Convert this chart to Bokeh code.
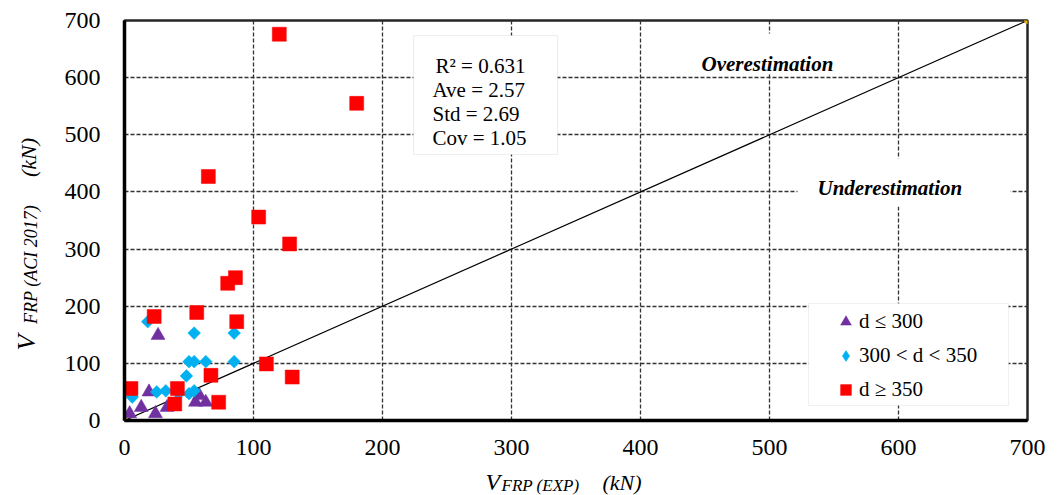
import math
from bokeh.plotting import figure
from bokeh.layouts import row, column
from bokeh.models import (Label, BoxAnnotation, Legend, LegendItem, Range1d,
                          FixedTicker)
from bokeh.core.properties import value
from bokeh.embed import file_html
from bokeh.resources import INLINE

# ---------------- data ----------------
x_ticks = [0, 100, 200, 300, 400, 500, 600, 700]
y_ticks = [0, 100, 200, 300, 400, 500, 600, 700]

# d <= 300
pur_x = [26, 19, 13, 4, 24, 33, 55, 63, 58]
pur_y = [149, 50, 23, 12, 12, 23, 32, 32, 44]

# 300 < d < 350
blue_x = [18, 54, 85, 50, 54, 63, 85, 48, 25, 32, 50, 54, 6, 42]
blue_y = [173, 153, 153, 103, 103, 103, 103, 78, 50, 52, 47, 52, 41, 47]

# d >= 350
red_x = [120, 180, 65, 104, 128, 86, 80, 56, 23, 87, 110, 130, 67, 5, 41, 39, 73]
red_y = [676, 555, 427, 356, 309, 250, 240, 189, 182, 173, 99, 76, 79, 56, 56, 29, 32]

# 1:1 reference line
line_x = [0, 700]
line_y = [0, 700]

series_labels = ["d \u2264 300", "300 < d < 350", "d \u2265 350"]
stats_lines = ["R\u00b2 = 0.631", "Ave = 2.57", "Std = 2.69", "Cov = 1.05"]
x_title = ["V", "FRP (EXP)", "(kN)"]
y_title = ["V", "FRP (ACI 2017)", "(kN)"]

# ---------------- layout ----------------
W, H = 1062, 495
LW = 46            # width of the y-title strip
MH = 466           # height of the main figure
FL, FR, FT, FB = 124, 1027, 20, 420   # frame in page pixels


def dx(px):
    return (px - FL) * 700.0 / (FR - FL)


def dy(py):
    return (FB - py) * 700.0 / (FB - FT)


SERIF = "Liberation Serif"
MATH = "Liberation Serif"

p = figure(width=W - LW, height=MH, output_backend="svg", toolbar_location=None,
           x_range=Range1d(0, 700), y_range=Range1d(0, 700),
           min_border_left=FL - LW, min_border_right=W - FR,
           min_border_top=FT, min_border_bottom=MH - FB)
p.background_fill_color = "white"
p.border_fill_color = "white"
p.outline_line_color = "#262626"
p.outline_line_width = 2.5

for ax, ticks in ((p.xaxis, x_ticks), (p.yaxis, y_ticks)):
    ax.ticker = FixedTicker(ticks=ticks)
    ax.major_label_text_font = SERIF
    ax.major_label_text_font_size = "24px"
    ax.major_label_text_color = "black"
    ax.axis_line_color = "black"
    ax.axis_line_width = 3.5
    ax.major_tick_line_color = None
    ax.minor_tick_line_color = None
    ax.major_tick_out = 0
    ax.major_tick_in = 0
p.xaxis.major_label_standoff = 19
p.yaxis.major_label_standoff = 24

p.xgrid.ticker = FixedTicker(ticks=x_ticks)
p.ygrid.ticker = FixedTicker(ticks=y_ticks)
for g in (p.xgrid, p.ygrid):
    g.grid_line_color = "#333333"
    g.grid_line_dash = "4 2"
    g.grid_line_width = 1.3

# 1:1 line
p.line(line_x, line_y, line_color="black", line_width=1.2)
p.scatter(line_x, line_y, marker="circle", size=6, fill_color="#FFC000",
          line_color="#D9A000", line_width=1)

r_pur = p.scatter(pur_x, pur_y, marker="triangle", size=14,
                  fill_color="#7030A0", line_color="#7030A0", line_width=0.5)
r_blue = p.scatter(blue_x, blue_y, marker="square", size=9, angle=math.pi / 4,
                   fill_color="#00B0F0", line_color="#00B0F0", line_width=0.5)
# diamond-shaped stand-in used only for the legend swatch (not drawn)
r_blue_leg = p.scatter(blue_x, blue_y, marker="diamond", size=14, visible=False,
                       fill_color="#00B0F0", line_color="#00B0F0", line_width=0.5)
r_red = p.scatter(red_x, red_y, marker="square", size=14,
                  fill_color="#FF0000", line_color="#FF0000", line_width=0.5)

# white boxes behind the region texts
p.add_layout(BoxAnnotation(left=dx(692), right=dx(842), top=dy(33), bottom=dy(73),
                           fill_color="white", fill_alpha=1, line_color=None))
p.add_layout(BoxAnnotation(left=dx(797), right=dx(1010), top=dy(158), bottom=dy(206),
                           fill_color="white", fill_alpha=1, line_color=None))

p.add_layout(Label(x=dx(701), y=dy(63), text="Overestimation", text_font=SERIF,
                   text_font_size="21px", text_font_style="bold italic",
                   text_color="black", text_baseline="alphabetic", text_align="left"))
p.add_layout(Label(x=dx(817), y=dy(187), text="Underestimation", text_font=SERIF,
                   text_font_size="21px", text_font_style="bold italic",
                   text_color="black", text_baseline="alphabetic", text_align="left"))

# stats box
p.add_layout(BoxAnnotation(left=dx(413), right=dx(557), top=dy(35), bottom=dy(154),
                           fill_color="white", fill_alpha=1,
                           line_color="#c8c8c8", line_width=1.2))
stat_pos = [(435, 65), (432, 89), (432, 113), (432, 137)]
for txt, (sx, sy) in zip(stats_lines, stat_pos):
    p.add_layout(Label(x=dx(sx), y=dy(sy), text=txt, text_font=SERIF,
                       text_font_size="21px", text_baseline="alphabetic",
                       text_align="left", text_color="black"))

# legend frame
p.add_layout(BoxAnnotation(left=dx(808), right=dx(1008), top=dy(303), bottom=dy(405),
                           fill_color="white", fill_alpha=1,
                           line_color="#cccccc", line_width=1.2))
legend = Legend(items=[LegendItem(label=series_labels[0], renderers=[r_pur]),
                       LegendItem(label=series_labels[1], renderers=[r_blue_leg]),
                       LegendItem(label=series_labels[2], renderers=[r_red])],
                location=(708, 17), padding=0, margin=0, spacing=7,
                glyph_width=27, glyph_height=27, label_standoff=0,
                label_text_font=SERIF, label_text_font_size="21px",
                label_text_color="black",
                border_line_color=None, background_fill_alpha=0)
p.add_layout(legend)


def strip(width, height, xr, yr):
    f = figure(width=width, height=height, output_backend="svg",
               toolbar_location=None, x_range=Range1d(*xr), y_range=Range1d(*yr),
               min_border=0, x_axis_type=None, y_axis_type=None)
    f.grid.visible = False
    f.outline_line_color = None
    f.background_fill_color = "white"
    f.border_fill_color = "white"
    return f


def put(f, x, y, txt, size, angle=0.0, align="center"):
    f.text(x=[x], y=[y], text=[txt], angle=angle,
           text_font=value(MATH), text_font_style=value("italic"),
           text_font_size=value(size), text_color="black",
           text_baseline=value("middle"), text_align=value(align))


# ---------- y-axis title strip (page-pixel coordinates, y measured upward) ----------
yl = strip(LW, H, (0, LW), (0, H))
put(yl, 26, H - 342, y_title[0], "26px", math.pi / 2)
put(yl, 30, H - 264, y_title[1], "18px", math.pi / 2)
put(yl, 28, H - 157, y_title[2], "22px", math.pi / 2)

# ---------- x-axis title strip (its frame aligns with the main frame) ----------
XH = H - MH
xl = strip(W - LW, XH, (FL, FR), (0, XH))
put(xl, 485, H - 481, x_title[0], "24px", align="left")
put(xl, 501, H - 485, x_title[1], "17px", align="left")
put(xl, 602, H - 482, x_title[2], "22px", align="left")

layout = row(yl, column(p, xl, spacing=0), spacing=0)

open("out.html", "w").write(file_html(layout, INLINE))
